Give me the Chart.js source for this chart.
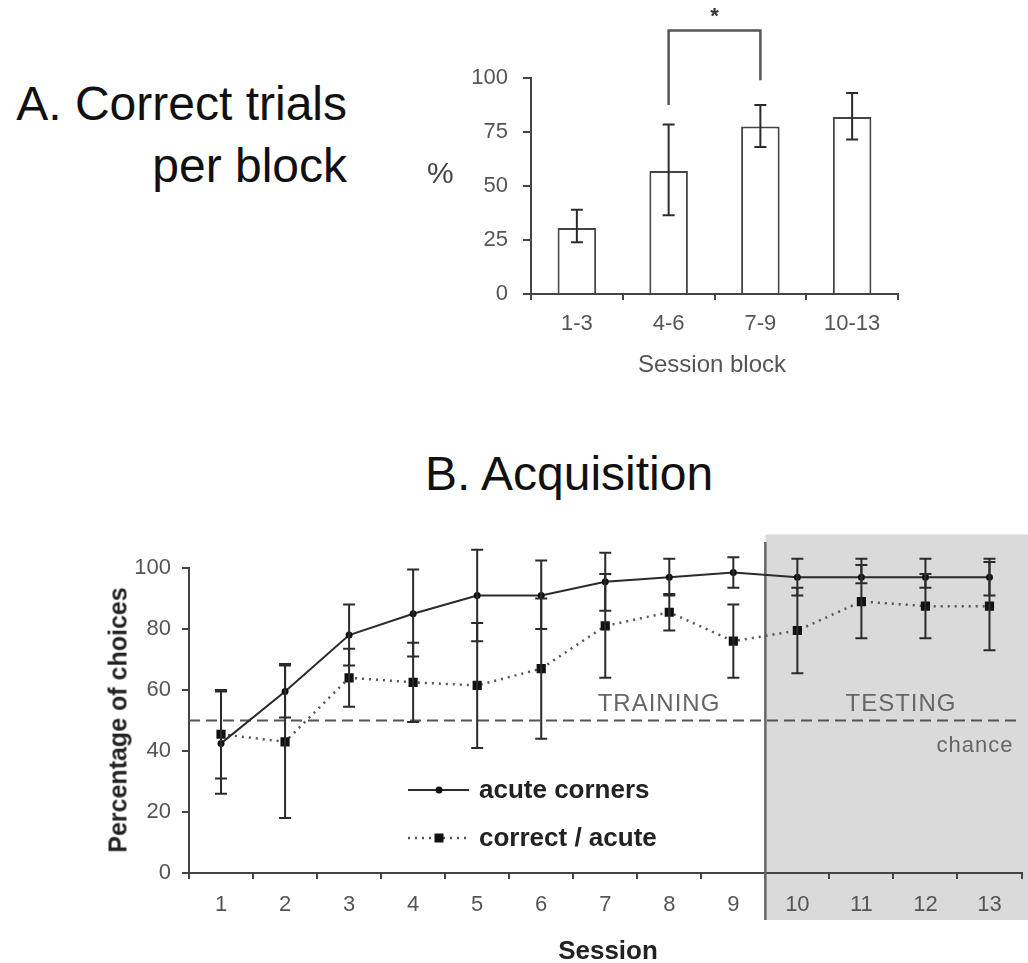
<!DOCTYPE html>
<html>
<head>
<meta charset="utf-8">
<script src="https://cdn.jsdelivr.net/npm/chart.js@4.4.0/dist/chart.umd.min.js"></script>
<style>
body { margin: 0; background: #fff; width: 1028px; height: 963px; overflow: hidden; position: relative; font-family: "Liberation Sans", Arial, sans-serif; }
.t { position: absolute; white-space: nowrap; line-height: 1; z-index: 2; }
canvas { position: absolute; z-index: 1; }
</style>
</head>
<body>
<div class="t" style="right:681px;top:73px;font-size:48px;line-height:62px;text-align:right;color:#111">A. Correct trials<br>per block</div>
<div class="t" style="left:427px;top:173px;transform:translateY(-50%);font-size:30px;color:#444">%</div>
<div class="t" style="left:712px;top:364px;transform:translate(-50%,-50%);font-size:24px;color:#555">Session block</div>

<div class="t" style="left:425px;top:450px;font-size:48px;color:#111">B. Acquisition</div>
<div class="t" style="left:118px;top:720px;transform:translate(-50%,-50%) rotate(-90deg);font-size:25px;font-weight:bold;color:#222">Percentage of choices</div>
<div class="t" style="left:608px;top:950px;transform:translate(-50%,-50%);font-size:26px;font-weight:bold;color:#222">Session</div>
<div class="t" style="left:659px;top:703px;transform:translate(-50%,-50%);font-size:24px;letter-spacing:1px;color:#666">TRAINING</div>
<div class="t" style="left:901px;top:703px;transform:translate(-50%,-50%);font-size:24px;letter-spacing:1px;color:#666">TESTING</div>
<div class="t" style="left:975px;top:745px;transform:translate(-50%,-50%);font-size:22px;letter-spacing:1px;color:#666">chance</div>

<canvas id="blockChart" width="480" height="400" style="left:431px;top:0px"></canvas>
<canvas id="acqChart" width="928" height="463" style="left:100px;top:500px"></canvas>

<script>
// Panel A data
const blocks = ["1-3", "4-6", "7-9", "10-13"];
const blockMeans = [30.5, 57, 77.5, 82];
const blockLow = [24, 36.5, 68, 71.5];
const blockHigh = [39, 78.5, 87.5, 93];
const blockTicks = [0, 25, 50, 75, 100];
// significance bracket between blocks 4-6 and 7-9
const sigPair = [1, 2];
const sigTop = 122;
const sigLegEnds = [87.5, 99];

// Panel B data
const sessions = ["1", "2", "3", "4", "5", "6", "7", "8", "9", "10", "11", "12", "13"];
const acute = [42.5, 59.5, 78, 85, 91, 91, 95.5, 97, 98.5, 97, 97, 97, 97];
const acuteLow = [26, 51, 68, 71, 76, 80, 86, 91, 93.5, 91, 95, 93.5, 91];
const acuteHigh = [59.5, 68.5, 88, 99.5, 106, 102.5, 105, 103, 103.5, 103, 103, 103, 103];
const correct = [45.5, 43, 64, 62.5, 61.5, 67, 81, 85.5, 76, 79.5, 89, 87.5, 87.5];
const correctLow = [31, 18, 54.5, 49.5, 41, 44, 64, 79.5, 64, 65.5, 77, 77, 73];
const correctHigh = [60, 68, 73.5, 75.5, 82, 90, 98, 91.5, 88, 93.5, 101, 98, 102];
const chanceLevel = 50;
const testingStart = 9; // index of session 10
const legendNames = ["acute corners", "correct / acute"];

const AXIS = "#444";
const INK = "#2b2b2b";
const tickFont = { family: "Liberation Sans", size: 22 };

// error bars for every dataset that carries errLow / errHigh
const errorBars = {
    id: "errorBars",
    afterDatasetsDraw(chart) {
        const c = chart.ctx;
        const y = chart.scales.y;
        c.save();
        c.strokeStyle = INK;
        c.lineWidth = 2;
        chart.data.datasets.forEach((ds, i) => {
            if (!ds.errLow) return;
            chart.getDatasetMeta(i).data.forEach((el, j) => {
                const x = el.x;
                const y0 = y.getPixelForValue(ds.errLow[j]);
                const y1 = y.getPixelForValue(ds.errHigh[j]);
                const w = ds.capWidth || 6;
                c.beginPath();
                c.moveTo(x, y0); c.lineTo(x, y1);
                c.moveTo(x - w, y0); c.lineTo(x + w, y0);
                c.moveTo(x - w, y1); c.lineTo(x + w, y1);
                c.stroke();
            });
        });
        c.restore();
    },
};

// bracket with a star
const bracket = {
    id: "bracket",
    afterDatasetsDraw(chart) {
        const c = chart.ctx;
        const y = chart.scales.y;
        const bars = chart.getDatasetMeta(0).data;
        const xa = bars[sigPair[0]].x, xb = bars[sigPair[1]].x;
        const yt = y.getPixelForValue(sigTop);
        c.save();
        c.strokeStyle = "#555";
        c.lineWidth = 2.5;
        c.beginPath();
        c.moveTo(xa, y.getPixelForValue(sigLegEnds[0]));
        c.lineTo(xa, yt);
        c.lineTo(xb, yt);
        c.lineTo(xb, y.getPixelForValue(sigLegEnds[1]));
        c.stroke();
        c.fillStyle = "#333";
        c.font = "bold 22px Liberation Sans";
        c.textAlign = "center";
        c.textBaseline = "middle";
        c.fillText("*", (xa + xb) / 2, yt - 14);
        c.restore();
    },
};

new Chart(document.getElementById("blockChart"), {
    type: "bar",
    data: {
        labels: blocks,
        datasets: [{
            data: blockMeans,
            errLow: blockLow,
            errHigh: blockHigh,
            capWidth: 6,
            backgroundColor: "#fff",
            borderColor: AXIS,
            borderWidth: 2,
            categoryPercentage: 1,
            barPercentage: 0.42,
        }],
    },
    options: {
        responsive: false,
        animation: false,
        layout: { padding: { top: 78, right: 13, left: 0, bottom: 0 } },
        plugins: { legend: { display: false }, tooltip: { enabled: false } },
        scales: {
            x: {
                afterFit: (s) => { s.height = 106; },
                grid: { drawOnChartArea: false, color: AXIS, lineWidth: 2, tickLength: 6 },
                border: { color: AXIS, width: 2 },
                ticks: { color: "#555", font: tickFont, padding: 11 },
            },
            y: {
                min: 0, max: 100,
                afterFit: (s) => { s.width = 100; },
                afterBuildTicks: (s) => { s.ticks = blockTicks.map((v) => ({ value: v })); },
                grid: { drawOnChartArea: false, color: AXIS, lineWidth: 2, tickLength: 8 },
                border: { color: AXIS, width: 2 },
                ticks: { color: "#555", font: tickFont, padding: 15 },
            },
        },
    },
    plugins: [errorBars, bracket],
});

// grey TESTING region, separator and chance line
const acqBackdrop = {
    id: "acqBackdrop",
    beforeDraw(chart) {
        const c = chart.ctx;
        const x = chart.scales.x;
        const y = chart.scales.y;
        const xs = (x.getPixelForValue(testingStart - 1) + x.getPixelForValue(testingStart)) / 2;
        c.save();
        c.fillStyle = "#dadada";
        c.fillRect(xs, y.getPixelForValue(111), chart.width - xs, chart.chartArea.bottom + 47 - y.getPixelForValue(111));
        c.restore();
    },
    beforeDatasetsDraw(chart) {
        const c = chart.ctx;
        const x = chart.scales.x;
        const y = chart.scales.y;
        const a = chart.chartArea;
        const xs = (x.getPixelForValue(testingStart - 1) + x.getPixelForValue(testingStart)) / 2;
        c.save();
        c.strokeStyle = "#555";
        c.lineWidth = 2;
        c.setLineDash([11, 6]);
        c.beginPath();
        c.moveTo(a.left, y.getPixelForValue(chanceLevel));
        c.lineTo(a.right, y.getPixelForValue(chanceLevel));
        c.stroke();
        c.setLineDash([]);
        c.strokeStyle = "#666";
        c.lineWidth = 2.5;
        c.beginPath();
        c.moveTo(xs, y.getPixelForValue(108.5));
        c.lineTo(xs, a.bottom + 47);
        c.stroke();
        c.restore();
    },
    afterDatasetsDraw(chart) {
        const c = chart.ctx;
        const rows = [290, 338];
        c.save();
        chart.data.datasets.forEach((ds, i) => {
            const yy = rows[i];
            c.strokeStyle = ds.borderColor;
            c.lineWidth = ds.borderWidth;
            c.setLineDash(ds.borderDash || []);
            c.beginPath();
            c.moveTo(308, yy); c.lineTo(369, yy);
            c.stroke();
            c.setLineDash([]);
            c.fillStyle = "#111";
            if (ds.pointStyle === "rect") {
                c.fillRect(339 - 4.5, yy - 4.5, 9, 9);
            } else {
                c.beginPath(); c.arc(339, yy, 3.5, 0, Math.PI * 2); c.fill();
            }
            c.fillStyle = "#222";
            c.font = "bold 26px Liberation Sans";
            c.textAlign = "left";
            c.textBaseline = "middle";
            c.fillText(legendNames[i], 379, yy + 1);
        });
        c.restore();
    },
};

new Chart(document.getElementById("acqChart"), {
    type: "line",
    data: {
        labels: sessions,
        datasets: [
            {
                data: acute,
                errLow: acuteLow,
                errHigh: acuteHigh,
                borderColor: INK,
                borderWidth: 2,
                pointStyle: "circle",
                pointRadius: 3.5,
                pointBackgroundColor: "#111",
                pointBorderWidth: 0,
                tension: 0,
            },
            {
                data: correct,
                errLow: correctLow,
                errHigh: correctHigh,
                borderColor: "#555",
                borderWidth: 2.5,
                borderDash: [2, 5],
                pointStyle: "rect",
                pointRadius: 6.5,
                pointBackgroundColor: "#111",
                pointBorderWidth: 0,
                tension: 0,
            },
        ],
    },
    options: {
        responsive: false,
        animation: false,
        layout: { padding: { top: 68, right: 0, left: 0, bottom: 0 } },
        plugins: { legend: { display: false }, tooltip: { enabled: false } },
        scales: {
            x: {
                offset: true,
                afterFit: (s) => { s.height = 90; },
                grid: { offset: true, drawOnChartArea: false, color: AXIS, lineWidth: 2, tickLength: 6 },
                border: { color: AXIS, width: 2 },
                ticks: { color: "#555", font: tickFont, padding: 13 },
            },
            y: {
                min: 0, max: 100,
                afterFit: (s) => { s.width = 89; },
                grid: { drawOnChartArea: false, color: AXIS, lineWidth: 2, tickLength: 7 },
                border: { color: AXIS, width: 2 },
                ticks: { stepSize: 20, color: "#555", font: tickFont, padding: 11 },
            },
        },
    },
    plugins: [acqBackdrop, errorBars],
});
</script>
</body>
</html>
